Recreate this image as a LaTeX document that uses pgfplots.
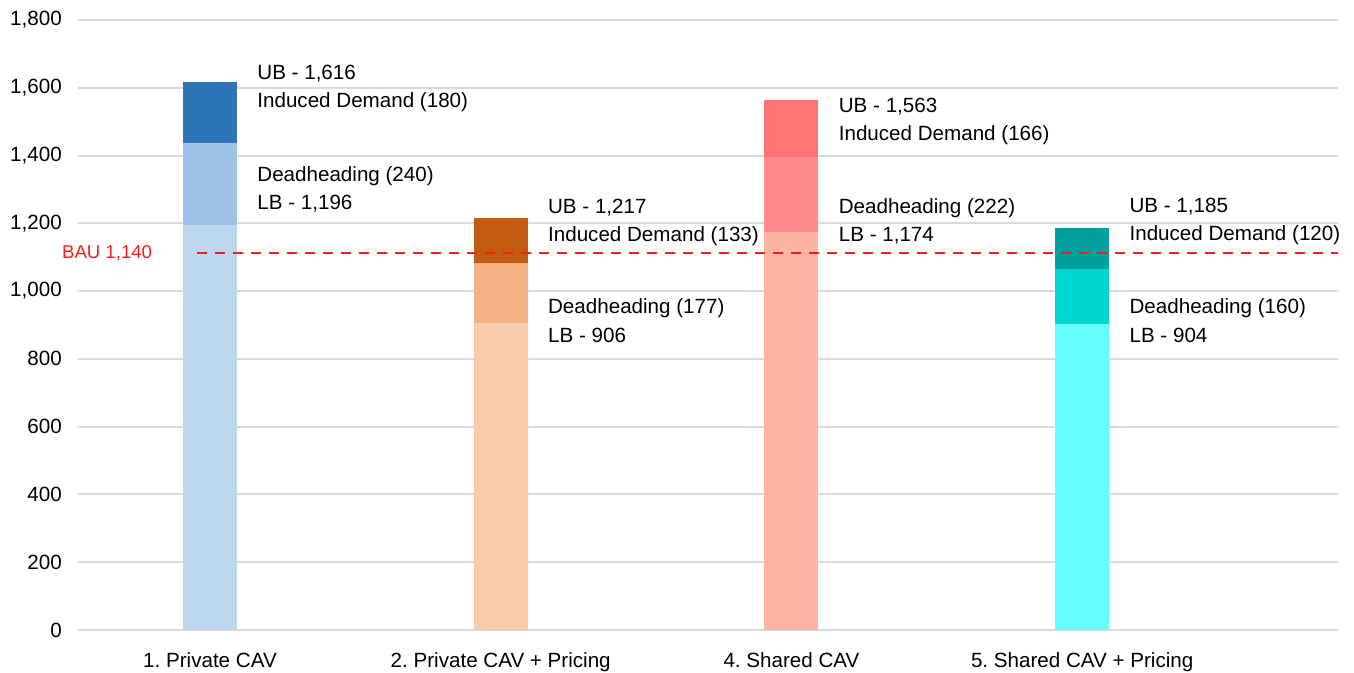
\documentclass[border=0pt]{standalone}
\usepackage{fontspec}
\setmainfont{Liberation Sans}
\usepackage{pgfplots}
\pgfplotsset{compat=1.18}
\definecolor{gridc}{HTML}{D9D9D9}
\definecolor{baured}{HTML}{F21E1E}
\definecolor{aA}{HTML}{BDD7EE}\definecolor{aB}{HTML}{9DC3E6}\definecolor{aC}{HTML}{2E75B6}
\definecolor{bA}{HTML}{F8CBAD}\definecolor{bB}{HTML}{F4B183}\definecolor{bC}{HTML}{C55A11}
\definecolor{cA}{HTML}{FFB4A2}\definecolor{cB}{HTML}{FF8C8C}\definecolor{cC}{HTML}{FF7575}
\definecolor{dA}{HTML}{66FFFF}\definecolor{dB}{HTML}{00D6D0}\definecolor{dC}{HTML}{00A0A0}
\begin{document}
\frenchspacing
\fontsize{10.3}{12.4}\selectfont
\begin{tikzpicture}
\begin{axis}[
  scale only axis, width=630pt, height=305pt,
  xmin=-0.454, xmax=3.88, ymin=0, ymax=1800,
  clip=false,
  axis line style={draw=none},
  tick style={draw=none},
  ytick={0,200,...,1800},
  ymajorgrids, major grid style={draw=gridc, line width=1pt},
  xtick={0,1,2,3},
  xticklabels={1. Private CAV, 2. Private CAV + Pricing, 4. Shared CAV, 5. Shared CAV + Pricing},
  xticklabel style={anchor=base, yshift=-19pt},
  yticklabel style={xshift=-4.5pt},
  /pgf/number format/.cd, 1000 sep={,}, assume math mode=true,
  /pgfplots/.cd,
  ticklabel style={font=\fontsize{10.3}{12.4}\selectfont},
]
\coordinate (o) at (rel axis cs:0,0);
% upper bound (LB + Deadheading + Induced Demand)
\addplot[ybar, bar width=27pt, fill=aC, draw=none] coordinates {(0,1616)};
\addplot[ybar, bar width=27pt, fill=bC, draw=none] coordinates {(1,1217)};
\addplot[ybar, bar width=27pt, fill=cC, draw=none] coordinates {(2,1563)};
\addplot[ybar, bar width=27pt, fill=dC, draw=none] coordinates {(3,1185)};
% LB + Deadheading
\addplot[ybar, bar width=27pt, fill=aB, draw=none] coordinates {(0,1436)};
\addplot[ybar, bar width=27pt, fill=bB, draw=none] coordinates {(1,1083)};
\addplot[ybar, bar width=27pt, fill=cB, draw=none] coordinates {(2,1396)};
\addplot[ybar, bar width=27pt, fill=dB, draw=none] coordinates {(3,1064)};
% lower bound
\addplot[ybar, bar width=27pt, fill=aA, draw=none] coordinates {(0,1196)};
\addplot[ybar, bar width=27pt, fill=bA, draw=none] coordinates {(1,906)};
\addplot[ybar, bar width=27pt, fill=cA, draw=none] coordinates {(2,1174)};
\addplot[ybar, bar width=27pt, fill=dA, draw=none] coordinates {(3,904)};
% BAU line
\addplot[baured, line width=1pt, dash pattern=on 5pt off 4pt] coordinates {(-0.045,1112) (3.88,1112)};
\node[baured, anchor=center, inner sep=0, font=\fontsize{9.3}{11}\selectfont] at (axis cs:-0.354,1112) {BAU 1,140};
% annotations
\tikzset{ann/.style={anchor=west, inner sep=0, xshift=23.5pt}}
\node[ann] at (axis cs:0,1641) {UB - 1,616};
\node[ann] at (axis cs:0,1558) {Induced Demand (180)};
\node[ann] at (axis cs:0,1340) {Deadheading (240)};
\node[ann] at (axis cs:0,1257) {LB - 1,196};
\node[ann] at (axis cs:1,1245) {UB - 1,217};
\node[ann] at (axis cs:1,1163) {Induced Demand (133)};
\node[ann] at (axis cs:1,950) {Deadheading (177)};
\node[ann] at (axis cs:1,868) {LB - 906};
\node[ann] at (axis cs:2,1543) {UB - 1,563};
\node[ann] at (axis cs:2,1461) {Induced Demand (166)};
\node[ann] at (axis cs:2,1245) {Deadheading (222)};
\node[ann] at (axis cs:2,1163) {LB - 1,174};
\node[ann] at (axis cs:3,1248) {UB - 1,185};
\node[ann] at (axis cs:3,1166) {Induced Demand (120)};
\node[ann] at (axis cs:3,950) {Deadheading (160)};
\node[ann] at (axis cs:3,868) {LB - 904};
\end{axis}
\pgfresetboundingbox
\useasboundingbox ([shift={(-39pt,-21.5pt)}]o) rectangle ([shift={(638pt,315pt)}]o);
\end{tikzpicture}
\end{document}
